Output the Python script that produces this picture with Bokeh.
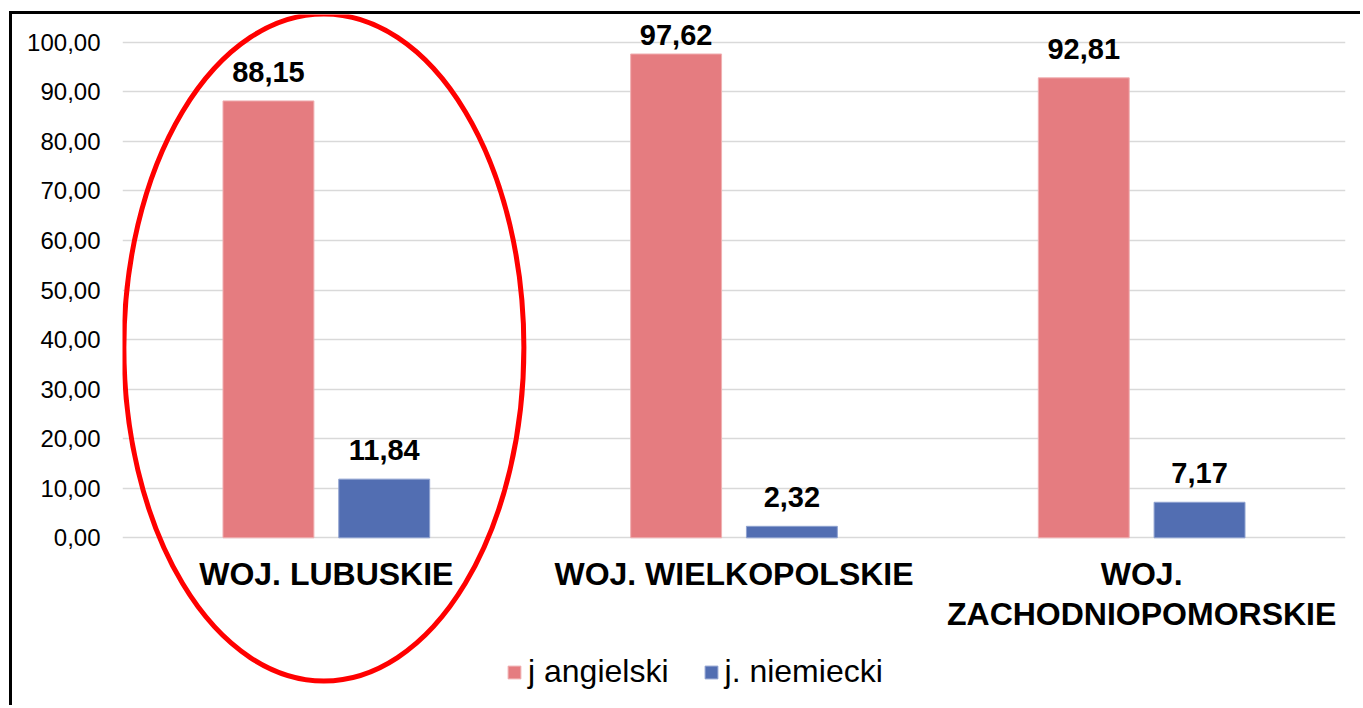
from bokeh.plotting import figure
from bokeh.models import FactorRange, Range1d, FixedTicker, ColumnDataSource, Legend, LegendItem
from bokeh.transform import dodge
from bokeh.core.properties import value
from bokeh.embed import file_html
from bokeh.resources import INLINE

# ---- data ----
categories = ["WOJ. LUBUSKIE", "WOJ. WIELKOPOLSKIE", "WOJ. ZACHODNIOPOMORSKIE"]
category_labels = ["WOJ. LUBUSKIE", "WOJ. WIELKOPOLSKIE", "WOJ.\nZACHODNIOPOMORSKIE"]
series_names = ["j angielski", "j. niemiecki"]
angielski = [88.15, 97.62, 92.81]
niemiecki = [11.84, 2.32, 7.17]
y_ticks = [0, 10, 20, 30, 40, 50, 60, 70, 80, 90, 100]
y_tick_labels = ["0,00", "10,00", "20,00", "30,00", "40,00", "50,00",
                 "60,00", "70,00", "80,00", "90,00", "100,00"]
highlighted = ["WOJ. LUBUSKIE"]

# ---- style ----
PINK = "#E57C80"
BLUE = "#526EB2"
FONT = "Liberation Sans"
Y_MIN, Y_MAX = -34.44, 105.59
PX_PER_UNIT = 694 / (Y_MAX - Y_MIN)
LABEL_GAP = 29 / PX_PER_UNIT          # label centre above bar top
LABEL_CAP = 101.5                     # keep labels inside the plot area

def fmt(v):
    return f"{v:.2f}".replace(".", ",")

def label_y(v):
    return min(v + LABEL_GAP, LABEL_CAP)

src = ColumnDataSource(dict(
    cat=categories,
    label=category_labels,
    ang=angielski,
    nie=niemiecki,
    ang_ly=[label_y(v) for v in angielski],
    nie_ly=[label_y(v) for v in niemiecki],
    ang_t=[fmt(v) for v in angielski],
    nie_t=[fmt(v) for v in niemiecki],
    zero=[0] * len(categories),
))

p = figure(
    x_range=FactorRange(*categories, range_padding=0),
    y_range=Range1d(Y_MIN, Y_MAX),
    width=1351, height=694,
    output_backend="svg", toolbar_location=None,
    min_border_left=110, min_border_right=18,
    min_border_top=0, min_border_bottom=0,
)
p.styles = {"border-top": "3px solid black", "border-left": "3px solid black",
            "margin-left": "9px", "margin-top": "11px"}
p.outline_line_color = None
p.xaxis.visible = False
p.xgrid.grid_line_color = None
p.ygrid.ticker = FixedTicker(ticks=y_ticks)
p.ygrid.grid_line_color = "#D9D9D9"
p.ygrid.grid_line_width = 1.5

ya = p.yaxis[0]
ya.ticker = FixedTicker(ticks=y_ticks)
ya.major_label_overrides = {t: l for t, l in zip(y_ticks, y_tick_labels)}
ya.axis_line_color = None
ya.major_tick_line_color = None
ya.minor_tick_line_color = None
ya.major_tick_out = 0
ya.major_tick_in = 0
ya.major_label_standoff = 22
ya.major_label_text_font = FONT
ya.major_label_text_font_size = "24px"
ya.major_label_text_color = "#000000"

W = 0.223
OFF = 0.142
r1 = p.vbar(x=dodge("cat", -OFF, range=p.x_range), top="ang", width=W, source=src,
            fill_color=PINK, line_color="#F0B0B2", line_width=1)
r2 = p.vbar(x=dodge("cat", OFF, range=p.x_range), top="nie", width=W, source=src,
            fill_color=BLUE, line_color="#8FA2D0", line_width=1)

for xo, ly, txt in [(-OFF, "ang_ly", "ang_t"), (OFF, "nie_ly", "nie_t")]:
    p.text(x=dodge("cat", xo, range=p.x_range), y=ly, text=txt, source=src,
           text_align="center", text_baseline="middle",
           text_font=value(FONT), text_font_size="29px", text_font_style="bold",
           text_color="#000000")

p.text(x="cat", y="zero", text="label", source=src,
       text_align="center", text_baseline="top", y_offset=18,
       text_font=value(FONT), text_font_size="32px", text_font_style="bold",
       text_color="#000000", text_line_height=1.13)

# highlight ellipse
p.ellipse(x=dodge("x", -0.006, range=p.x_range), y="y",
          source=ColumnDataSource(dict(x=highlighted, y=[38.4])),
          width=400, height=667,
          width_units="screen", height_units="screen",
          fill_color=None, line_color="#FF0000", line_width=5)

legend = Legend(items=[LegendItem(label=series_names[0], renderers=[r1]),
                       LegendItem(label=series_names[1], renderers=[r2])],
                orientation="horizontal", location=(384, 18),
                glyph_width=16, glyph_height=16, label_standoff=6, spacing=34,
                padding=0, margin=0, border_line_color=None,
                background_fill_alpha=0,
                label_text_font=FONT, label_text_font_size="32px",
                label_text_color="#000000")
p.add_layout(legend, "center")

open("out.html", "w").write(file_html(p, INLINE))
